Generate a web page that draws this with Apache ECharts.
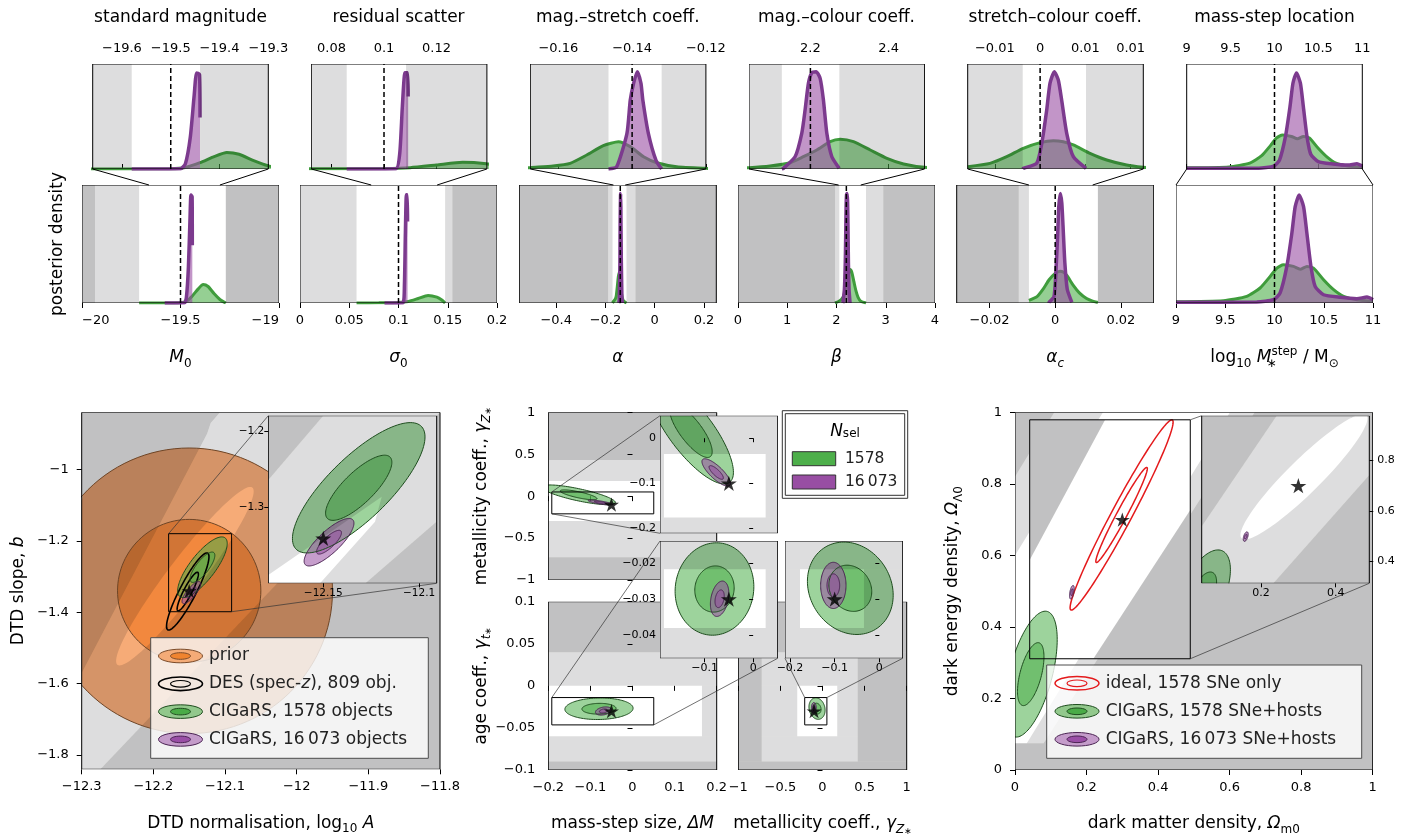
<!DOCTYPE html>
<html>
<head>
<meta charset="utf-8">
<title>CIGaRS posteriors</title>
<script src="https://cdn.jsdelivr.net/npm/echarts@6.0.0/dist/echarts.min.js"></script>
<style>
html, body { margin: 0; padding: 0; background: #fff; }
#chart { width: 1416px; height: 837px; }
</style>
</head>
<body>
<div id="chart"></div>
<script>
const F = 'DejaVu Sans';
// shading is laid over the marks as translucent black, so marks underneath darken like the grey
const SHADE_DARK = 'rgba(0,2,6,0.243)', SHADE_LIGHT = 'rgba(0,2,6,0.133)';

// ---------------- top row: 1-D marginal posteriors ----------------
const paramTitles = ['standard magnitude', 'residual scatter', 'mag.–stretch coeff.', 'mag.–colour coeff.', 'stretch–colour coeff.', 'mass-step location'];
const paramSymbols = ['{it|M}{sub|0}', '{it|σ}{sub|0}', '{it|α}', '{it|β}', '{it|α}{subit|c}', 'log{sub|10} {it|M}{sub0|∗}{sup|step} / M{sub|⊙}'];
const truthValues = [-19.5, 0.1, -0.14, 2.2, 0, 10];
const fullRanges = [[-20, -19], [0, 0.2], [-0.55, 0.25], [0, 4], [-0.03, 0.03], [9, 11]];
const zoomRanges = [[-19.66, -19.3], [0.0723, 0.1392], [-0.1676, -0.12], [2.043, 2.492], [-0.008, 0.0114], [9, 11]];
const fullTicks = [[-20, -19.5, -19], [0, 0.05, 0.1, 0.15, 0.2], [-0.4, -0.2, 0, 0.2], [0, 1, 2, 3, 4], [-0.02, 0, 0.02], [9, 9.5, 10, 10.5, 11]];
const fullTickLabels = [['−20', '−19.5', '−19'], ['0', '0.05', '0.1', '0.15', '0.2'], ['−0.4', '−0.2', '0', '0.2'], ['0', '1', '2', '3', '4'], ['−0.02', '0', '0.02'], ['9', '9.5', '10', '10.5', '11']];
const zoomTicks = [[-19.6, -19.5, -19.4, -19.3], [0.08, 0.1, 0.12], [-0.16, -0.14, -0.12], [2.2, 2.4], [-0.005, 0, 0.005, 0.01], [9, 9.5, 10, 10.5, 11]];
const zoomTickLabels = [['−19.6', '−19.5', '−19.4', '−19.3'], ['0.08', '0.1', '0.12'], ['−0.16', '−0.14', '−0.12'], ['2.2', '2.4'], ['−0.01', '0', '0.01', '0.01'], ['9', '9.5', '10', '10.5', '11']];
// shaded intervals: [from, to, 'd' dark | 'l' light]
const fullBands = [
  [[-20, -19.934, 'd'], [-19.934, -19.71, 'l'], [-19.27, -19, 'd']],
  [[0, 0.0574, 'l'], [0.1473, 0.1547, 'l'], [0.1547, 0.2, 'd']],
  [[-0.55, -0.1893, 'd'], [-0.1893, -0.1714, 'l'], [-0.1147, -0.0782, 'l'], [-0.0782, 0.25, 'd']],
  [[0, 1.97, 'd'], [1.97, 2.057, 'l'], [2.599, 2.95, 'l'], [2.95, 4, 'd']],
  [[-0.03, -0.0111, 'd'], [-0.0111, -0.008, 'l'], [0.013, 0.03, 'd']],
  []
];
const zoomBands = [
  [[-19.66, -19.58, 'l'], [-19.44, -19.3, 'l']],
  [[0.0723, 0.0858, 'l'], [0.1084, 0.1392, 'l']],
  [[-0.1676, -0.1464, 'l'], [-0.132, -0.12, 'l']],
  [[2.043, 2.127, 'l'], [2.274, 2.492, 'l']],
  [[-0.008, -0.00192, 'l'], [0.00507, 0.0114, 'l']],
  []
];
// posterior densities (peak-normalised), N_sel = 1578
const greenDensity = [
  [[-19.71, 0], [-19.5, 0.003], [-19.47, 0.015], [-19.44, 0.06], [-19.41, 0.12], [-19.385, 0.156], [-19.36, 0.14], [-19.33, 0.08], [-19.3, 0.03], [-19.27, 0]],
  [[0.0574, 0], [0.08, 0.002], [0.1, 0.005], [0.11, 0.013], [0.12, 0.038], [0.13, 0.064], [0.139, 0.05], [0.144, 0.025], [0.1473, 0]],
  [[-0.1714, 0], [-0.1676, 0.013], [-0.1614, 0.029], [-0.1568, 0.054], [-0.1523, 0.133], [-0.1478, 0.222], [-0.1437, 0.26], [-0.1405, 0.213], [-0.1369, 0.117], [-0.1333, 0.06], [-0.1279, 0.022], [-0.12, 0.006], [-0.1147, 0]],
  [[1.97, 0], [2.043, 0.013], [2.0968, 0.029], [2.148, 0.06], [2.1821, 0.117], [2.2164, 0.181], [2.2505, 0.26], [2.2761, 0.283], [2.3102, 0.26], [2.353, 0.181], [2.3957, 0.102], [2.4382, 0.048], [2.492, 0.016], [2.599, 0]],
  [[-0.008, 0.022], [-0.00554, 0.054], [-0.00369, 0.117], [-0.00186, 0.197], [0, 0.251], [0.00146, 0.27], [0.00256, 0.26], [0.00367, 0.229], [0.00551, 0.149], [0.00736, 0.086], [0.00956, 0.038], [0.0114, 0.016], [0.013, 0.004]],
  [[9, 0.011], [9.481, 0.02], [9.718, 0.056], [9.854, 0.127], [9.956, 0.225], [10.024, 0.296], [10.091, 0.324], [10.193, 0.31], [10.261, 0.287], [10.329, 0.31], [10.396, 0.296], [10.498, 0.197], [10.6, 0.113], [10.701, 0.056], [10.837, 0.028], [11, 0.014]]
];
// posterior densities (peak-normalised), N_sel = 16 073
const purpleDensity = [
  [[-19.58, 0], [-19.48, 0.002], [-19.47, 0.05], [-19.46, 0.3], [-19.452, 0.7], [-19.447, 0.915], [-19.441, 0.9], [-19.44, 0.49]],
  [[0.0858, 0], [0.1045, 0.002], [0.106, 0.15], [0.107, 0.6], [0.108, 0.917], [0.109, 0.917], [0.1092, 0.69]],
  [[-0.1464, 0], [-0.1442, 0.02], [-0.1414, 0.34], [-0.1405, 0.657], [-0.1396, 0.816], [-0.1386, 0.927], [-0.1376, 0.816], [-0.1371, 0.657], [-0.1356, 0.34], [-0.1335, 0.08], [-0.132, 0]],
  [[2.127, 0], [2.1309, 0.006], [2.1608, 0.117], [2.1779, 0.34], [2.1864, 0.562], [2.1949, 0.816], [2.2036, 0.917], [2.2146, 0.927], [2.2249, 0.863], [2.2333, 0.657], [2.242, 0.34], [2.2548, 0.117], [2.2735, 0.006], [2.274, 0]],
  [[-0.00192, 0], [-0.00186, 0.006], [-0.00038, 0.054], [0.00018, 0.244], [0.00073, 0.562], [0.00109, 0.816], [0.00157, 0.927], [0.00201, 0.848], [0.00238, 0.657], [0.00294, 0.34], [0.00367, 0.117], [0.00507, 0.006]],
  [[9, 0.006], [9.82, 0.008], [9.99, 0.028], [10.057, 0.085], [10.125, 0.31], [10.176, 0.59], [10.21, 0.817], [10.25, 0.915], [10.295, 0.817], [10.329, 0.59], [10.37, 0.31], [10.413, 0.14], [10.498, 0.07], [10.667, 0.048], [10.837, 0.037], [10.939, 0.05], [11, 0.028]]
];

// ---------------- bottom row: 2-D credible regions ----------------
// ellipse = [centre x, centre y, sigma x, sigma y, correlation]; drawn at 1 and 2 sigma
// delay-time distribution
const dtdRange = { x: [-12.3, -11.8], y: [-1.84, -0.84] };
const dtdZoom = { x: [-12.1787, -12.0908], y: [-1.3986, -1.18] };
const dtdPrior = [-12.15, -1.34, 0.1, 0.2, 0];
const dtdDES = [-12.152, -1.342, 0.0148, 0.054, 0.9];
const dtdGreen = [-12.1315, -1.274, 0.0173, 0.0425, 0.78];
const dtdPurple = [-12.147, -1.345, 0.0065, 0.0155, 0.8];
const dtdTruth = [-12.15, -1.34];
const dtdDarkRegions = [
  [[-12.3, -0.84], [-12.107, -0.84], [-12.12, -0.87], [-12.125, -0.9], [-12.3, -1.57]],
  [[-12.274, -1.84], [-11.8, -1.84], [-11.8, -0.84]]
];
const dtdLightBand = [[-12.3, -1.57], [-12.125, -0.9], [-12.12, -0.87], [-12.107, -0.84], [-11.8, -0.84], [-12.274, -1.84], [-12.3, -1.84]];
const dtdWhiteRegion = [-12.156, -1.299, 0.048, 0.125, 0.95];
const dtdZoomDark = [[[-12.1787, -1.18], [-12.15, -1.18], [-12.1787, -1.264]], [[-12.0908, -1.318], [-12.0908, -1.3986], [-12.128, -1.3986]]];
const dtdZoomLight = [[-12.15, -1.18], [-12.0908, -1.18], [-12.0908, -1.318], [-12.128, -1.3986], [-12.1517, -1.3985], [-12.123, -1.3182], [-12.1195, -1.2856], [-12.1787, -1.3877], [-12.1787, -1.264]];
const dtdTicks = { x: [-12.3, -12.2, -12.1, -12, -11.9, -11.8], xl: ['−12.3', '−12.2', '−12.1', '−12', '−11.9', '−11.8'], y: [-1.8, -1.6, -1.4, -1.2, -1], yl: ['−1.8', '−1.6', '−1.4', '−1.2', '−1'] };
const dtdZoomTicks = { x: [-12.15, -12.1], xl: ['−12.15', '−12.1'], y: [-1.3, -1.2], yl: ['−1.3', '−1.2'] };
const dtdLegendLabels = ['prior', 'DES (spec-{it|z}), 809 obj.', 'CIGaRS, 1578 objects', 'CIGaRS, 16\u2009073 objects'];

// host-galaxy coefficients
const metMassRange = { x: [-0.2, 0.2], y: [-1, 1] };
const ageMassRange = { x: [-0.2, 0.2], y: [-0.1, 0.1] };
const ageMetRange = { x: [-1, 1], y: [-0.1, 0.1] };
const metMassZoom = { x: [-0.1917, 0.0505], y: [-0.211, 0.05] };
const ageMassZoom = { x: [-0.1917, 0.0505], y: [-0.0464, -0.0139] };
const ageMetZoom = { x: [-0.2112, 0.0523], y: [-0.0464, -0.0139] };
const metMassGreen = [-0.128, 0.016, 0.0437, 0.0587, -0.78];
const metMassPurple = [-0.076, -0.076, 0.0147, 0.0152, -0.8];
const ageMassGreen = [-0.0796, -0.0272, 0.0405, 0.0064, 0.05];
const ageMassPurple = [-0.069, -0.0299, 0.0095, 0.00245, 0.3];
const ageMetGreen = [-0.065, -0.027, 0.048, 0.0064, -0.15];
const ageMetPurple = [-0.103, -0.0262, 0.0142, 0.0032, 0];
const metMassTruth = [-0.05, -0.1];
const ageMassTruth = [-0.05, -0.03];
const ageMetTruth = [-0.1, -0.03];
// rectangles [x0, x1, y0, y1]: outer light-grey box and inner white box
const metMassBands = { light: [-0.2, 0.2, -0.73, 0.43], white: [-0.2, 0.2, -0.295, 0.18] };
const ageMassBands = { light: [-0.2, 0.2, -0.09, 0.04], white: [-0.2, 0.165, -0.06, 0] };
const ageMetBands = { light: [-0.722, 0.418, -0.09, 0.04], white: [-0.3, 0.175, -0.06, 0] };
const metMassZoomWhite = [-0.1835, 0.0257, -0.176, -0.0349];
const ageMassZoomWhite = [-0.1835, 0.0257, -0.038, -0.0217];
const ageMetZoomWhite = [-0.1776, -0.0344, -0.038, -0.0217];
const nselLabels = ['1578', '16\u2009073'];

// cosmology
const cosmoRange = { x: [0, 1], y: [0, 1] };
const cosmoZoom = { x: [0.0411, 0.49], y: [0.311, 0.979] };
const cosmoIdeal = [0.298, 0.713, 0.072, 0.133, 0.975];
const cosmoGreen = [0.044, 0.268, 0.037, 0.088, 0.55];
const cosmoPurple = [0.159, 0.497, 0.0033, 0.0095, 0.5];
const cosmoTruth = [0.3, 0.7];
const cosmoDarkRegions = [
  [[0, 1], [0.11, 1], [0, 0.82]],
  [[0, 0], [1, 0], [1, 1], [0.67, 1], [0.522, 0.764], [0.08, 0.075], [0, 0.075]]
];
const cosmoLightRegions = [
  [[0, 0.82], [0, 0.6], [0.246, 1], [0.11, 1]],
  [[0.033, 0.075], [0.08, 0.075], [0.522, 0.764], [0.67, 1], [0.601, 1], [0.508, 0.848]]
];
const cosmoBoxDark = [[[0.0411, 0.979], [0.252, 0.979], [0.0411, 0.587]], [[0.219, 0.311], [0.49, 0.311], [0.49, 0.727]]];
const cosmoZoomDark = [[[0.0411, 0.979], [0.242, 0.979], [0.0411, 0.537]], [[0.49, 0.743], [0.49, 0.311], [0.233, 0.311]]];
const cosmoZoomLight = [[0.242, 0.979], [0.49, 0.979], [0.49, 0.743], [0.233, 0.311], [0.0411, 0.311], [0.0411, 0.537]];
const cosmoZoomWhite = [0.315, 0.736, 0.085, 0.125, 0.93];
const cosmoLegendLabels = ['ideal, 1578 SNe only', 'CIGaRS, 1578 SNe+hosts', 'CIGaRS, 16\u2009073 SNe+hosts'];

// ---------------- helpers ----------------
const RICH = {
  it: { fontFamily: F, fontSize: 17, fontStyle: 'italic', lineHeight: 24, color: '#000' },
  sub: { fontFamily: F, fontSize: 12, lineHeight: 13, verticalAlign: 'bottom', color: '#000' },
  subit: { fontFamily: F, fontSize: 12, lineHeight: 13, verticalAlign: 'bottom', fontStyle: 'italic', color: '#000' },
  sub0: { fontFamily: F, fontSize: 12, lineHeight: 13, verticalAlign: 'bottom', width: 0, color: '#000' },
  sup: { fontFamily: F, fontSize: 12, lineHeight: 13, verticalAlign: 'top', color: '#000' },
  subsub: { fontFamily: F, fontSize: 9, lineHeight: 10, verticalAlign: 'bottom', color: '#000' }
};
const STAR = 'path://M50,0L61.17,34.63L97.55,34.55L68.07,55.87L79.39,90.45L50,69L20.61,90.45L31.93,55.87L2.45,34.55L38.83,34.63Z';
const rgba = (c, a) => 'rgba(' + c[0] + ',' + c[1] + ',' + c[2] + ',' + a + ')';
const GREEN = [77, 175, 74], PURPLE = [152, 78, 163], ORANGE = [240, 110, 20];

function ellipsePoints(e, k) {
  const q = Math.sqrt(1 - e[4] * e[4]);
  const pts = [];
  for (let i = 0; i < 120; i++) {
    const t = 2 * Math.PI * i / 120, c = Math.cos(t), s = Math.sin(t);
    pts.push([e[0] + k * e[2] * c, e[1] + k * e[3] * (e[4] * c + q * s)]);
  }
  return pts;
}
function signedArea(p) {
  let a = 0;
  for (let i = 0; i < p.length; i++) { const j = (i + 1) % p.length; a += p[i][0] * p[j][1] - p[j][0] * p[i][1]; }
  return a;
}
function rectMinus(o, h) {
  const out = [];
  if (h[2] > o[2]) out.push([o[0], o[1], o[2], h[2]]);
  if (h[3] < o[3]) out.push([o[0], o[1], h[3], o[3]]);
  if (h[0] > o[0]) out.push([o[0], h[0], h[2], h[3]]);
  if (h[1] < o[1]) out.push([h[1], o[1], h[2], h[3]]);
  return out;
}

const grids = [], xAxes = [], yAxes = [], series = [], ranges = [];
function addGrid(box, range, xa, ya) {
  const i = grids.length;
  grids.push({ left: box[0], top: box[1], width: box[2], height: box[3], containLabel: false, outerBoundsMode: 'none', show: false });
  xa.gridIndex = i; ya.gridIndex = i;
  xAxes.push(xa); yAxes.push(ya); ranges.push(range);
  return i;
}
function axis(pos, range, ticks, labels, o) {
  o = o || {};
  const tk = ticks || [];
  const ax = {
    type: 'value', min: range[0], max: range[1], position: pos, show: o.hidden ? false : true,
    axisLine: { show: false }, splitLine: { show: false },
    axisTick: { show: tk.length > 0, customValues: tk, length: o.tickLen || 5, inside: false, lineStyle: { color: '#000', width: 1 } },
    axisLabel: {
      show: !!labels, customValues: tk, fontFamily: F, fontSize: o.fontSize || 13, color: '#000', margin: o.margin || 8, hideOverlap: false,
      formatter: function (v) {
        const i = tk.findIndex(t => Math.abs(t - v) < 1e-9 + 1e-9 * Math.abs(t));
        return (i >= 0 && labels) ? labels[i] : '';
      }
    },
    z: o.z || 0
  };
  if (o.alignEdges) { ax.axisLabel.alignMinLabel = 'left'; ax.axisLabel.alignMaxLabel = 'right'; }
  if (o.name) {
    ax.name = o.name; ax.nameLocation = 'middle'; ax.nameGap = o.nameGap;
    ax.nameTextStyle = { fontFamily: F, fontSize: 17, color: '#000', lineHeight: 24, rich: RICH };
    ax.nameMoveOverlap = false;
    if (pos === 'left' || pos === 'right') ax.nameRotate = 90;
  }
  return ax;
}
const hiddenAxis = r => axis('left', r, null, null, { hidden: true });

// custom series drawing a list of shapes in data coordinates
function shapeSeries(g, items, z) {
  const r = ranges[g];
  return {
    type: 'custom', xAxisIndex: g, yAxisIndex: g, z: z, silent: true, clip: true, animation: false,
    data: items.map(() => [r.x[0], r.y[0]]),
    renderItem: function (params, api) {
      const it = items[params.dataIndex];
      const cs = params.coordSys;
      if (it.frame) {
        return { type: 'rect', shape: { x: cs.x, y: cs.y, width: cs.width, height: cs.height }, style: { fill: it.fill || 'none', stroke: it.fill ? 'none' : '#000', lineWidth: 1 } };
      }
      if (it.vline !== undefined) {
        const a = api.coord([it.vline, r.y[0]]), b = api.coord([it.vline, r.y[1]]);
        return { type: 'line', shape: { x1: a[0], y1: a[1], x2: b[0], y2: b[1] }, style: { stroke: '#000', lineWidth: 1.5, lineDash: [5, 3] } };
      }
      let pts;
      if (it.rect) { const q = it.rect; pts = [[q[0], q[2]], [q[1], q[2]], [q[1], q[3]], [q[0], q[3]]]; }
      else if (it.poly) pts = it.poly;
      else pts = ellipsePoints(it.ell, it.k);
      pts = pts.map(p => api.coord(p));
      if (it.holeEll) {
        // cut an elliptical hole: inner ring wound opposite to the outer ring, joined by a bridge
        let hole = ellipsePoints(it.holeEll, it.holeK).map(p => api.coord(p));
        if (signedArea(hole) * signedArea(pts) > 0) hole = hole.reverse();
        pts = pts.concat([pts[0]], hole, [hole[0]]);
      }
      if (it.fill) pts = echarts.graphic.clipPointsByRect(pts, cs);
      const style = { fill: it.fill || 'none', stroke: it.stroke || 'none', lineWidth: it.lw || 1 };
      return { type: 'polygon', shape: { points: pts }, style: style };
    }
  };
}
function starSeries(g, pt, z, size) {
  return { type: 'scatter', xAxisIndex: g, yAxisIndex: g, z: z, silent: true, animation: false, data: [pt], symbol: STAR, symbolKeepAspect: true, symbolSize: size || 15, itemStyle: { color: '#000' } };
}
const fillPair = (e, c, a) => [{ ell: e, k: 2, fill: rgba(c, a) }, { ell: e, k: 1, fill: rgba(c, a) }];
const edgePair = (e, s, lw) => [{ ell: e, k: 2, stroke: s, lw: lw }, { ell: e, k: 1, stroke: s, lw: lw }];
const darkItems = polys => polys.map(p => ({ poly: p, fill: SHADE_DARK }));
const lightItems = polys => polys.map(p => ({ poly: p, fill: SHADE_LIGHT }));
const rectItems = (rects, fill) => rects.map(q => ({ rect: q, fill: fill }));
const GREEN_EDGE = '#1e4d1e', PURPLE_EDGE = '#4b2453';

// ---------------- top row ----------------
const TOP_LOWER_X = [82, 300, 519.3, 738, 956.7, 1176];
const TOP_UPPER_X = [92.7, 311.3, 530.3, 749, 967.7, 1186.7];
const topPairs = [];
for (let p = 0; p < 6; p++) {
  const gU = addGrid([TOP_UPPER_X[p], 64, 175.6, 105], { x: zoomRanges[p], y: [0, 1] },
    axis('top', zoomRanges[p], zoomTicks[p], zoomTickLabels[p], { margin: 9 }), hiddenAxis([0, 1]));
  const gL = addGrid([TOP_LOWER_X[p], 185, 197, 118], { x: fullRanges[p], y: [0, 1] },
    axis('bottom', fullRanges[p], fullTicks[p], fullTickLabels[p], { margin: 11, alignEdges: p === 0, name: paramSymbols[p], nameGap: 43 }), hiddenAxis([0, 1]));
  topPairs.push([gU, gL, p]);
  [[gU, zoomBands[p]], [gL, fullBands[p]]].forEach(([g, bands]) => {
    series.push({
      type: 'line', xAxisIndex: g, yAxisIndex: g, z: 2, silent: true, animation: false, data: greenDensity[p],
      symbol: 'none', smooth: 0.2, lineStyle: { color: '#3f9c3c', width: 3 }, areaStyle: { color: rgba(GREEN, 0.85) }
    });
    series.push({
      type: 'line', xAxisIndex: g, yAxisIndex: g, z: 3, silent: true, animation: false, data: purpleDensity[p],
      symbol: 'none', smooth: 0.2, lineStyle: { color: '#7c3a8e', width: 3.5 }, areaStyle: { color: rgba(PURPLE, 0.85) }
    });
    series.push(shapeSeries(g, bands.map(b => ({ rect: [b[0], b[1], 0, 1], fill: b[2] === 'd' ? SHADE_DARK : SHADE_LIGHT })), 4));
    series.push(shapeSeries(g, [{ vline: truthValues[p] }, { frame: true }], 5));
  });
}

// z order of the 2-D panels: fills 2, shading 3, contour lines 9, star 9.5, boxes 10; insets 12-17
function contourLayers(g, fills, edges, truth, zBase, starSize) {
  series.push(shapeSeries(g, fills, zBase));
  series.push(shapeSeries(g, edges, zBase + 7));
  series.push(starSeries(g, truth, zBase + 7.5, starSize));
}

// ---------------- bottom left: delay-time distribution ----------------
const gD = addGrid([81.7, 412.3, 358.3, 357], dtdRange,
  axis('bottom', dtdRange.x, dtdTicks.x, dtdTicks.xl, { margin: 11, name: 'DTD normalisation, log{sub|10} {it|A}', nameGap: 42 }),
  axis('left', dtdRange.y, dtdTicks.y, dtdTicks.yl, { margin: 13, name: 'DTD slope, {it|b}', nameGap: 51 }));
contourLayers(gD, [].concat(fillPair(dtdPrior, ORANGE, 0.58), fillPair(dtdGreen, GREEN, 0.55), fillPair(dtdPurple, PURPLE, 0.55)),
  [].concat(edgePair(dtdPrior, '#6e4526', 1), edgePair(dtdDES, '#000', 1.6), edgePair(dtdGreen, GREEN_EDGE, 1), edgePair(dtdPurple, PURPLE_EDGE, 1)), dtdTruth, 2, 15);
series.push(shapeSeries(gD, darkItems(dtdDarkRegions).concat([{ poly: dtdLightBand, holeEll: dtdWhiteRegion, holeK: 2, fill: SHADE_LIGHT }]), 3));
series.push(shapeSeries(gD, [{ rect: [dtdZoom.x[0], dtdZoom.x[1], dtdZoom.y[0], dtdZoom.y[1]], stroke: '#000', lw: 1 }, { frame: true }], 10));

const gDz = addGrid([268.3, 415.7, 168.4, 167.6], dtdZoom,
  axis('bottom', dtdZoom.x, dtdZoomTicks.x, dtdZoomTicks.xl, { fontSize: 10.5, margin: 4, tickLen: 4, z: 18 }),
  axis('left', dtdZoom.y, dtdZoomTicks.y, dtdZoomTicks.yl, { fontSize: 10.5, margin: 4, tickLen: 4, z: 18 }));
series.push(shapeSeries(gDz, [{ frame: true, fill: '#fff' }], 12));
series.push(shapeSeries(gDz, [].concat(fillPair(dtdGreen, GREEN, 0.55), fillPair(dtdPurple, PURPLE, 0.55)), 13));
series.push(shapeSeries(gDz, darkItems(dtdZoomDark).concat(lightItems([dtdZoomLight])), 14));
series.push(shapeSeries(gDz, [].concat(edgePair(dtdGreen, GREEN_EDGE, 1), edgePair(dtdPurple, PURPLE_EDGE, 1)), 15));
series.push(starSeries(gDz, dtdTruth, 16, 16));
series.push(shapeSeries(gDz, [{ frame: true }], 17));

// ---------------- bottom middle: host-galaxy coefficients ----------------
function hostPanel(g, range, bands, green, purple, truth, zoom) {
  const full = [range.x[0], range.x[1], range.y[0], range.y[1]];
  contourLayers(g, [].concat(fillPair(green, GREEN, 0.55), fillPair(purple, PURPLE, 0.55)),
    [].concat(edgePair(green, GREEN_EDGE, 1), edgePair(purple, PURPLE_EDGE, 1)), truth, 2, 15);
  series.push(shapeSeries(g, rectItems(rectMinus(full, bands.light), SHADE_DARK).concat(rectItems(rectMinus(bands.light, bands.white), SHADE_LIGHT)), 3));
  series.push(shapeSeries(g, [{ rect: [zoom.x[0], zoom.x[1], zoom.y[0], zoom.y[1]], stroke: '#000', lw: 1 }, { frame: true }], 10));
}
function hostZoom(g, zoom, white, green, purple, truth) {
  const full = [zoom.x[0], zoom.x[1], zoom.y[0], zoom.y[1]];
  series.push(shapeSeries(g, [{ frame: true, fill: '#fff' }], 12));
  series.push(shapeSeries(g, [].concat(fillPair(green, GREEN, 0.55), fillPair(purple, PURPLE, 0.55)), 13));
  series.push(shapeSeries(g, rectItems(rectMinus(full, white), SHADE_LIGHT), 14));
  series.push(shapeSeries(g, [].concat(edgePair(green, GREEN_EDGE, 1), edgePair(purple, PURPLE_EDGE, 1)), 15));
  series.push(starSeries(g, truth, 16, 16));
  series.push(shapeSeries(g, [{ frame: true }], 17));
}
const gTicks = [-0.2, -0.1, 0, 0.1, 0.2], gTickL = ['−0.2', '−0.1', '0', '0.1', '0.2'];
const tTicks = [-0.1, -0.05, 0, 0.05, 0.1], tTickL = ['−0.1', '−0.05', '0', '0.05', '0.1'];
const gMM = addGrid([548.3, 412.3, 168.4, 167.7], metMassRange,
  axis('bottom', metMassRange.x, gTicks, null),
  axis('left', metMassRange.y, [-1, -0.5, 0, 0.5, 1], ['−1', '−0.5', '0', '0.5', '1'], { margin: 13, name: 'metallicity coeff., {it|γ}{subit|Z}{subsub|∗}', nameGap: 55 }));
hostPanel(gMM, metMassRange, metMassBands, metMassGreen, metMassPurple, metMassTruth, metMassZoom);
const gAM = addGrid([548.3, 601.7, 168.4, 168.3], ageMassRange,
  axis('bottom', ageMassRange.x, gTicks, gTickL, { margin: 11, name: 'mass-step size, {it|ΔM}', nameGap: 42 }),
  axis('left', ageMassRange.y, tTicks, tTickL, { margin: 13, name: 'age coeff., {it|γ}{subit|t}{subsub|∗}', nameGap: 55 }));
hostPanel(gAM, ageMassRange, ageMassBands, ageMassGreen, ageMassPurple, ageMassTruth, ageMassZoom);
const gAZ = addGrid([738.3, 601.7, 168.4, 168.3], ageMetRange,
  axis('bottom', ageMetRange.x, [-1, -0.5, 0, 0.5, 1], ['−1', '−0.5', '0', '0.5', '1'], { margin: 11, name: 'metallicity coeff., {it|γ}{subit|Z}{subsub|∗}', nameGap: 42 }),
  axis('left', ageMetRange.y, tTicks, null));
hostPanel(gAZ, ageMetRange, ageMetBands, ageMetGreen, ageMetPurple, ageMetTruth, ageMetZoom);

const gMMz = addGrid([660, 415.7, 117.7, 117.6], metMassZoom,
  axis('bottom', metMassZoom.x, [-0.1, 0], null, { tickLen: 4, z: 18 }),
  axis('left', metMassZoom.y, [-0.2, -0.1, 0], ['−0.2', '−0.1', '0'], { fontSize: 11, margin: 4, tickLen: 4, z: 18 }));
hostZoom(gMMz, metMassZoom, metMassZoomWhite, metMassGreen, metMassPurple, metMassTruth);
const gAMz = addGrid([660, 541, 117.7, 117.3], ageMassZoom,
  axis('bottom', ageMassZoom.x, [-0.1, 0], ['−0.1', '0'], { fontSize: 11, margin: 4, tickLen: 4, z: 18 }),
  axis('left', ageMassZoom.y, [-0.04, -0.03, -0.02], ['−0.04', '−0.03', '−0.02'], { fontSize: 11, margin: 4, tickLen: 4, z: 18 }));
hostZoom(gAMz, ageMassZoom, ageMassZoomWhite, ageMassGreen, ageMassPurple, ageMassTruth);
const gAZz = addGrid([785, 541, 117.7, 117.3], ageMetZoom,
  axis('bottom', ageMetZoom.x, [-0.2, -0.1, 0], ['−0.2', '−0.1', '0'], { fontSize: 11, margin: 4, tickLen: 4, z: 18 }),
  axis('left', ageMetZoom.y, [-0.04, -0.03, -0.02], null, { tickLen: 4, z: 18 }));
hostZoom(gAZz, ageMetZoom, ageMetZoomWhite, ageMetGreen, ageMetPurple, ageMetTruth);

// ---------------- bottom right: cosmology ----------------
const cTicks = [0, 0.2, 0.4, 0.6, 0.8, 1], cTickL = ['0', '0.2', '0.4', '0.6', '0.8', '1'];
const C_BOX = [1015, 412.3, 357.7, 357.7];
const gC = addGrid(C_BOX, cosmoRange,
  axis('bottom', cosmoRange.x, cTicks, cTickL, { margin: 11, name: 'dark matter density, {it|Ω}{sub|m0}', nameGap: 42 }),
  axis('left', cosmoRange.y, cTicks, cTickL, { margin: 13, name: 'dark energy density, {it|Ω}{sub|Λ0}', nameGap: 50 }));
contourLayers(gC, [].concat(fillPair(cosmoGreen, GREEN, 0.55), fillPair(cosmoPurple, PURPLE, 0.55)),
  [].concat(edgePair(cosmoIdeal, '#e41a1c', 1.5), edgePair(cosmoGreen, GREEN_EDGE, 1), edgePair(cosmoPurple, PURPLE_EDGE, 1)), cosmoTruth, 2, 15);
series.push(shapeSeries(gC, darkItems(cosmoDarkRegions).concat(lightItems(cosmoLightRegions)), 3));
series.push(shapeSeries(gC, [{ rect: [cosmoZoom.x[0], cosmoZoom.x[1], cosmoZoom.y[0], cosmoZoom.y[1]], stroke: '#000', lw: 1 }, { frame: true }], 10));
// the outlined region keeps its own finer shading: a hidden grid laid exactly over it
const sx = C_BOX[2] / (cosmoRange.x[1] - cosmoRange.x[0]), sy = C_BOX[3] / (cosmoRange.y[1] - cosmoRange.y[0]);
const gCb = addGrid([C_BOX[0] + (cosmoZoom.x[0] - cosmoRange.x[0]) * sx, C_BOX[1] + (cosmoRange.y[1] - cosmoZoom.y[1]) * sy,
  (cosmoZoom.x[1] - cosmoZoom.x[0]) * sx, (cosmoZoom.y[1] - cosmoZoom.y[0]) * sy], cosmoZoom,
  axis('bottom', cosmoZoom.x, null, null, { hidden: true }), hiddenAxis(cosmoZoom.y));
series.push(shapeSeries(gCb, [{ frame: true, fill: '#fff' }], 6));
series.push(shapeSeries(gCb, [].concat(fillPair(cosmoGreen, GREEN, 0.55), fillPair(cosmoPurple, PURPLE, 0.55)), 7));
series.push(shapeSeries(gCb, darkItems(cosmoBoxDark), 8));

const gCz = addGrid([1201.7, 415.7, 167.6, 167.6], cosmoZoom,
  axis('bottom', cosmoZoom.x, [0.2, 0.4], ['0.2', '0.4'], { fontSize: 11, margin: 4, tickLen: 4, z: 18 }),
  axis('right', cosmoZoom.y, [0.4, 0.6, 0.8], ['0.4', '0.6', '0.8'], { fontSize: 11, margin: 8, tickLen: 4, z: 18 }));
series.push(shapeSeries(gCz, [{ frame: true, fill: '#fff' }], 12));
series.push(shapeSeries(gCz, [].concat(fillPair(cosmoGreen, GREEN, 0.55), fillPair(cosmoPurple, PURPLE, 0.55)), 13));
series.push(shapeSeries(gCz, darkItems(cosmoZoomDark).concat([{ poly: cosmoZoomLight, holeEll: cosmoZoomWhite, holeK: 2, fill: SHADE_LIGHT }]), 14));
series.push(shapeSeries(gCz, [].concat(edgePair(cosmoGreen, GREEN_EDGE, 1), edgePair(cosmoPurple, PURPLE_EDGE, 1)), 15));
series.push(starSeries(gCz, cosmoTruth, 16, 16));
series.push(shapeSeries(gCz, [{ frame: true }], 17));

// ---------------- render ----------------
const chart = echarts.init(document.getElementById('chart'), null, { renderer: 'canvas' });
chart.setOption({
  backgroundColor: '#fff', animation: false,
  textStyle: { fontFamily: F },
  grid: grids, xAxis: xAxes, yAxis: yAxes, series: series
});

// connector lines between zoom boxes and their insets
const px = (g, pt) => chart.convertToPixel({ gridIndex: g }, pt);
const graphics = [];
function connector(a, b, color, w, z) {
  graphics.push({ type: 'line', z: z, silent: true, shape: { x1: a[0], y1: a[1], x2: b[0], y2: b[1] }, style: { stroke: color, lineWidth: w } });
}
topPairs.forEach(([gU, gL, p]) => {
  connector(px(gU, [zoomRanges[p][0], 0]), px(gL, [zoomRanges[p][0], 1]), '#000', 1, 8);
  connector(px(gU, [zoomRanges[p][1], 0]), px(gL, [zoomRanges[p][1], 1]), '#000', 1, 8);
});
function corner(g, r, cx, cy) { return px(g, [r.x[cx], r.y[cy]]); }
// [main grid, zoom range, inset grid, corner pairs as [main x idx, main y idx, inset x idx, inset y idx]]
[
  [gD, dtdZoom, gDz, [[0, 1, 0, 1], [1, 0, 1, 0]]],
  [gMM, metMassZoom, gMMz, [[0, 1, 0, 1], [0, 0, 0, 0]]],
  [gAM, ageMassZoom, gAMz, [[0, 1, 0, 1], [1, 0, 1, 0]]],
  [gAZ, ageMetZoom, gAZz, [[0, 1, 0, 0], [1, 1, 1, 0]]],
  [gC, cosmoZoom, gCz, [[1, 1, 0, 1], [1, 0, 1, 0]]]
].forEach(([gm, zr, gi, pairs]) => {
  pairs.forEach(c => connector(corner(gm, zr, c[0], c[1]), corner(gi, zr, c[2], c[3]), '#333', 0.7, 11));
});

// titles and shared labels
paramTitles.forEach((t, p) => {
  graphics.push({ type: 'text', z: 30, silent: true, x: TOP_LOWER_X[p] + 98.5, y: 18, style: { text: t, fontFamily: F, fontSize: 17, fill: '#000', align: 'center', verticalAlign: 'middle', textAlign: 'center', textVerticalAlign: 'middle' } });
});
graphics.push({ type: 'text', z: 30, silent: true, x: 58, y: 244, rotation: Math.PI / 2, style: { text: 'posterior density', fontFamily: F, fontSize: 17, fill: '#000', align: 'center', verticalAlign: 'middle', textAlign: 'center', textVerticalAlign: 'middle' } });

const LRICH = {
  it: { fontFamily: F, fontSize: 17, fontStyle: 'italic', fill: '#222', color: '#222' },
  sub: { fontFamily: F, fontSize: 12, lineHeight: 13, verticalAlign: 'bottom', fill: '#222', color: '#222' }
};
function legendText(x, y, text, size) {
  graphics.push({ type: 'text', z: 32, silent: true, x: x, y: y, style: { text: text, rich: LRICH, fontFamily: F, fontSize: size, fill: '#222', align: 'left', verticalAlign: 'middle', textAlign: 'left', textVerticalAlign: 'middle' } });
}
function legendIcon(cx, cy, outer, inner) {
  graphics.push({ type: 'ellipse', z: 31, silent: true, shape: { cx: cx, cy: cy, rx: 22, ry: 6.8 }, style: outer });
  graphics.push({ type: 'ellipse', z: 31, silent: true, shape: { cx: cx, cy: cy, rx: 10, ry: 3.3 }, style: inner });
}
const iconStyles = {
  prior: [{ fill: '#f4ab77', stroke: '#7a4a28', lineWidth: 1 }, { fill: '#f0842f', stroke: '#7a4a28', lineWidth: 1 }],
  des: [{ fill: 'none', stroke: '#000', lineWidth: 1.6 }, { fill: 'none', stroke: '#000', lineWidth: 1.2 }],
  green: [{ fill: '#92c88c', stroke: GREEN_EDGE, lineWidth: 1 }, { fill: '#4aab47', stroke: GREEN_EDGE, lineWidth: 1 }],
  purple: [{ fill: '#c49cca', stroke: PURPLE_EDGE, lineWidth: 1 }, { fill: '#9a4ea6', stroke: PURPLE_EDGE, lineWidth: 1 }],
  ideal: [{ fill: 'none', stroke: '#e41a1c', lineWidth: 1.5 }, { fill: 'none', stroke: '#e41a1c', lineWidth: 1.2 }]
};
// DTD legend
graphics.push({ type: 'rect', z: 30, silent: true, shape: { x: 150.7, y: 637.7, width: 277.6, height: 120.6 }, style: { fill: 'rgba(255,255,255,0.8)', stroke: '#4d4d4d', lineWidth: 1 } });
['prior', 'des', 'green', 'purple'].forEach((k, i) => {
  const y = 656 + i * 27.8;
  legendIcon(180.5, y, iconStyles[k][0], iconStyles[k][1]);
  legendText(209, y, dtdLegendLabels[i], 17);
});
// cosmology legend
graphics.push({ type: 'rect', z: 30, silent: true, shape: { x: 1046.7, y: 665, width: 315, height: 93.3 }, style: { fill: 'rgba(255,255,255,0.8)', stroke: '#4d4d4d', lineWidth: 1 } });
['ideal', 'green', 'purple'].forEach((k, i) => {
  const y = 683.3 + i * 28;
  legendIcon(1077, y, iconStyles[k][0], iconStyles[k][1]);
  legendText(1105.7, y, cosmoLegendLabels[i], 17);
});
// sample-size legend
graphics.push({ type: 'rect', z: 30, silent: true, shape: { x: 782.3, y: 410.7, width: 125.4, height: 87.6 }, style: { fill: '#fff', stroke: '#333', lineWidth: 1 } });
graphics.push({ type: 'rect', z: 31, silent: true, shape: { x: 785.3, y: 413.7, width: 119.4, height: 81.6 }, style: { fill: 'none', stroke: '#333', lineWidth: 1 } });
graphics.push({ type: 'text', z: 32, silent: true, x: 845, y: 431.5, style: { text: '{it|N}{sub|sel}', rich: { it: { fontFamily: F, fontSize: 17, fontStyle: 'italic', fill: '#000' }, sub: { fontFamily: F, fontSize: 12, lineHeight: 13, verticalAlign: 'bottom', fill: '#000' } }, fontFamily: F, fontSize: 17, fill: '#000', align: 'center', verticalAlign: 'middle', textAlign: 'center', textVerticalAlign: 'middle' } });
[[GREEN, GREEN_EDGE], [PURPLE, PURPLE_EDGE]].forEach((c, i) => {
  const y = 451.7 + i * 23.3;
  graphics.push({ type: 'rect', z: 31, silent: true, shape: { x: 792.3, y: y, width: 43.4, height: 14 }, style: { fill: rgba(c[0], 1), stroke: '#333', lineWidth: 1 } });
  legendText(845, y + 7, nselLabels[i], 15.5);
});

chart.setOption({ graphic: graphics });
</script>
</body>
</html>
